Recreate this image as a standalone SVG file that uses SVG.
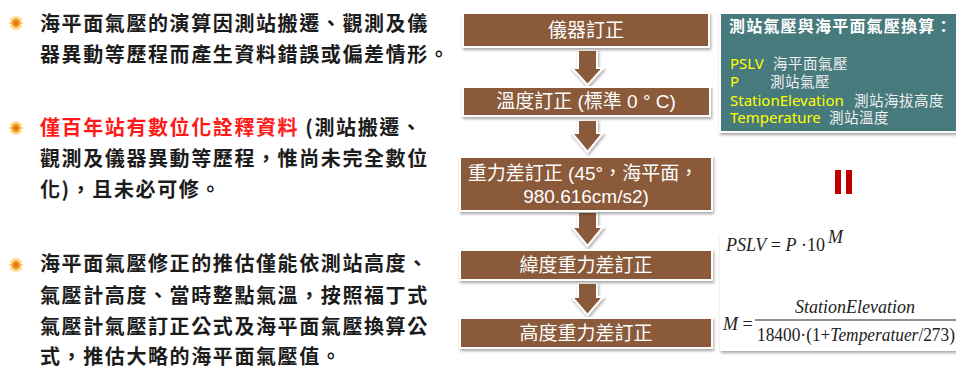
<svg xmlns="http://www.w3.org/2000/svg" width="956" height="369" viewBox="0 0 956 369" xml:lang="zh-TW" lang="zh-TW">
<defs>
<style>
.lt{font-family:"Noto Sans CJK TC","Noto Sans CJK SC",sans-serif;font-weight:bold;font-size:20px;letter-spacing:1.6px;fill:#1c1c1c}
.red{fill:#ff1a1a}
.bx{fill:#8a5a3b;stroke:#ffffff;stroke-width:2;filter:url(#sh)}
.bt{font-family:"Liberation Sans","Noto Sans CJK TC",sans-serif;font-size:19px;fill:#ffffff;text-anchor:middle}
.ar{fill:#8a5a3b;stroke:#ffffff;stroke-width:2;stroke-linejoin:miter;filter:url(#sh)}
.tl{font-family:"Noto Sans CJK TC",sans-serif;font-weight:bold;font-size:16px;fill:#ffffff;letter-spacing:1.2px}
.yl{font-family:"Noto Sans","Noto Sans CJK TC",sans-serif;font-size:15px;fill:#ffff00}
.wl{font-family:"Noto Sans CJK TC",sans-serif;font-size:14.5px;fill:#f0f0f0;letter-spacing:0.5px}
.fm{font-family:"Liberation Serif","Noto Serif",serif;font-size:18px;fill:#222222}
.it{font-style:italic}
</style>
<filter id="sh" x="-10%" y="-20%" width="120%" height="150%">
<feDropShadow dx="1" dy="2" stdDeviation="1.5" flood-color="#000000" flood-opacity="0.35"/>
</filter>
<radialGradient id="sun" cx="0.5" cy="0.5" r="0.5">
<stop offset="0" stop-color="#e0601a"/>
<stop offset="0.6" stop-color="#f08a1f"/>
<stop offset="1" stop-color="#ffc94a"/>
</radialGradient>
<symbol id="bul" viewBox="-8 -8 16 16" overflow="visible">
<polygon points="0,-8 1.3,-4.2 3.1,-7.4 3.2,-3.2 6.3,-5.3 4.2,-1.3 8,0 4.2,1.3 6.3,5.3 3.2,3.2 3.1,7.4 1.3,4.2 0,8 -1.3,4.2 -3.1,7.4 -3.2,3.2 -6.3,5.3 -4.2,1.3 -8,0 -4.2,-1.3 -6.3,-5.3 -3.2,-3.2 -3.1,-7.4 -1.3,-4.2" fill="#f9c04a"/>
<circle r="4.6" fill="url(#sun)"/>
</symbol>
</defs>

<g id="bullet-text-1">
<use href="#bul" x="8" y="15" width="16" height="16"/>
<text class="lt" x="40" y="31">海平面氣壓的演算因測站搬遷、觀測及儀</text>
<text class="lt" x="40" y="62">器異動等歷程而產生資料錯誤或偏差情形。</text>
</g>
<g id="bullet-text-2">
<use href="#bul" x="8" y="120" width="16" height="16"/>
<text class="lt" x="40" y="135"><tspan class="red">僅百年站有數位化詮釋資料</tspan> (測站搬遷、</text>
<text class="lt" x="40" y="166">觀測及儀器異動等歷程，惟尚未完全數位</text>
<text class="lt" x="40" y="197">化)，且未必可修。</text>
</g>
<g id="bullet-text-3">
<use href="#bul" x="8" y="257" width="16" height="16"/>
<text class="lt" x="40" y="271">海平面氣壓修正的推估僅能依測站高度、</text>
<text class="lt" x="40" y="303">氣壓計高度、當時整點氣溫，按照福丁式</text>
<text class="lt" x="40" y="334">氣壓計氣壓訂正公式及海平面氣壓換算公</text>
<text class="lt" x="40" y="364">式，推估大略的海平面氣壓值。</text>
</g>

<g id="connectors">
<polygon class="ar" points="578,50 597,50 597,68 603,68 587.5,85 572,68 578,68"/>
<polygon class="ar" points="578,120 597,120 597,133 603,133 587.5,152 572,133 578,133"/>
<polygon class="ar" points="578,212 597,212 597,227 603,227 587.5,246 572,227 578,227"/>
<polygon class="ar" points="578,283 597,283 597,297 603,297 587.5,315 572,297 578,297"/>
</g>

<g id="node-1">
<rect class="bx" x="463" y="13" width="246" height="34"/>
<text class="bt" x="586" y="37">儀器訂正</text>
</g>
<g id="node-2">
<rect class="bx" x="463" y="87" width="247" height="29"/>
<text class="bt" x="586" y="108">溫度訂正 (標準 0 ° C)</text>
</g>
<g id="node-3">
<rect class="bx" x="460" y="157" width="252" height="54"/>
<text class="bt" x="583" y="180">重力差訂正 (45°，海平面，</text>
<text class="bt" x="586" y="203">980.616cm/s2)</text>
</g>
<g id="node-4">
<rect class="bx" x="460" y="250" width="252" height="30"/>
<text class="bt" x="586" y="272">緯度重力差訂正</text>
</g>
<g id="node-5">
<rect class="bx" x="460" y="318" width="252" height="30"/>
<text class="bt" x="586" y="340">高度重力差訂正</text>
</g>

<g id="legend">
<rect x="720" y="13" width="240" height="119" fill="#477a7d" stroke="#ffffff" stroke-width="2" filter="url(#sh)"/>
<text class="tl" x="729" y="32">測站氣壓與海平面氣壓換算：</text>
<text class="yl" x="730" y="69">PSLV</text><text class="wl" x="773" y="69">海平面氣壓</text>
<text class="yl" x="730" y="87">P</text><text class="wl" x="770" y="87">測站氣壓</text>
<text class="yl" x="730" y="106">StationElevation</text><text class="wl" x="854" y="106">測站海拔高度</text>
<text class="yl" x="730" y="123">Temperature</text><text class="wl" x="829" y="123">測站溫度</text>
</g>

<g id="equals">
<rect x="835" y="170" width="6" height="24" fill="#c00000"/>
<rect x="846" y="170" width="6" height="24" fill="#c00000"/>
</g>

<g id="formula">
<rect x="720" y="233" width="240" height="118" fill="#ffffff" filter="url(#sh)"/>
<text class="fm" x="726" y="251"><tspan class="it">PSLV</tspan> = <tspan class="it">P</tspan> ·10</text>
<text class="fm it" x="828" y="243" font-size="11">M</text>
<text class="fm it" x="855" y="313" text-anchor="middle">StationElevation</text>
<line x1="755" y1="320" x2="956" y2="320" stroke="#222222" stroke-width="1"/>
<text class="fm" x="723" y="330"><tspan class="it">M</tspan> =</text>
<text class="fm" x="757" y="341" textLength="198" lengthAdjust="spacingAndGlyphs">18400·(1+<tspan class="it">Temperatuer</tspan>/273)</text>
</g>
</svg>
